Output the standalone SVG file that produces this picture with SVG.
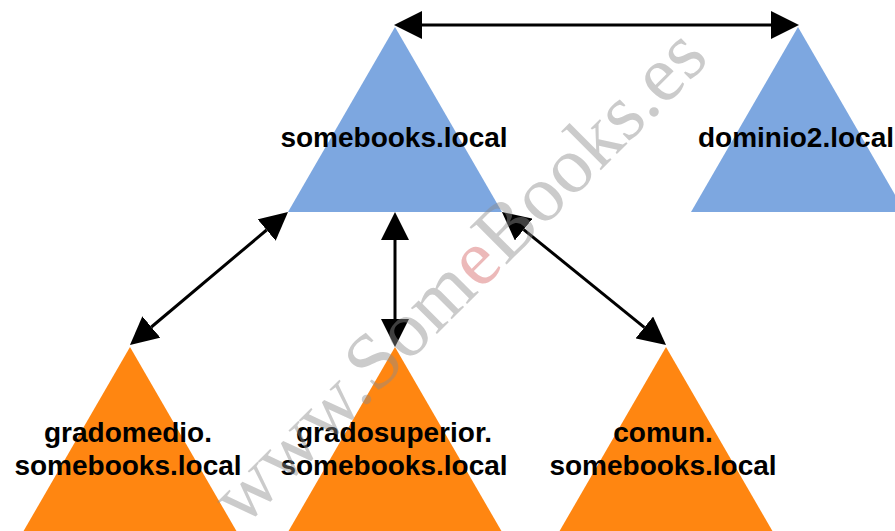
<svg xmlns="http://www.w3.org/2000/svg" width="895" height="531" viewBox="0 0 895 531">
<style>
.blue{fill:#7da7e0}
.orange{fill:#ff8611}
.lbl{font-family:"Liberation Sans",Arial,sans-serif;font-weight:bold;font-size:28px;fill:#000;text-anchor:middle}
.conn{stroke:#000;stroke-width:3;fill:none;marker-start:url(#ah);marker-end:url(#ah)}
.wm{font-family:"Liberation Serif","Times New Roman",serif;font-size:80px;fill:#8c8c8c;fill-opacity:0.45}
</style>
<defs>
<marker id="ah" markerUnits="userSpaceOnUse" markerWidth="28" markerHeight="28" refX="0" refY="14" orient="auto-start-reverse" viewBox="0 0 28 28">
<path d="M0,0 L28,14 L0,28 z" fill="#000"/>
</marker>
</defs>
<rect width="895" height="531" fill="#fff"/>
<g id="somebooks">
<polygon class="blue" points="395,27 288,212 502,212"/>
<text class="lbl" x="394" y="147">somebooks.local</text>
</g>
<g id="dominio2">
<polygon class="blue" points="798,27 691,212 905,212"/>
<text class="lbl" x="796" y="147">dominio2.local</text>
</g>
<g id="gradomedio">
<polygon class="orange" points="130,347 23,532 237,532"/>
<text class="lbl" x="128" y="442">gradomedio.</text>
<text class="lbl" x="128" y="475">somebooks.local</text>
</g>
<g id="gradosuperior">
<polygon class="orange" points="395,347 288,532 502,532"/>
<text class="lbl" x="394" y="442">gradosuperior.</text>
<text class="lbl" x="394" y="475">somebooks.local</text>
</g>
<g id="comun">
<polygon class="orange" points="666,347 559,532 773,532"/>
<text class="lbl" x="663" y="442">comun.</text>
<text class="lbl" x="663" y="475">somebooks.local</text>
</g>
<g id="connectors">
<line class="conn" x1="422" y1="25" x2="771" y2="25"/>
<line class="conn" x1="395" y1="240" x2="395" y2="319"/>
<line class="conn" x1="266.6" y1="230" x2="151.4" y2="327"/>
<line class="conn" x1="523.7" y1="229.6" x2="644.3" y2="327.4"/>
</g>
<text class="wm" transform="translate(243,528) rotate(-45)">www.Som<tspan fill="#d05050" fill-opacity="0.4">e</tspan>Books.es</text>
</svg>
